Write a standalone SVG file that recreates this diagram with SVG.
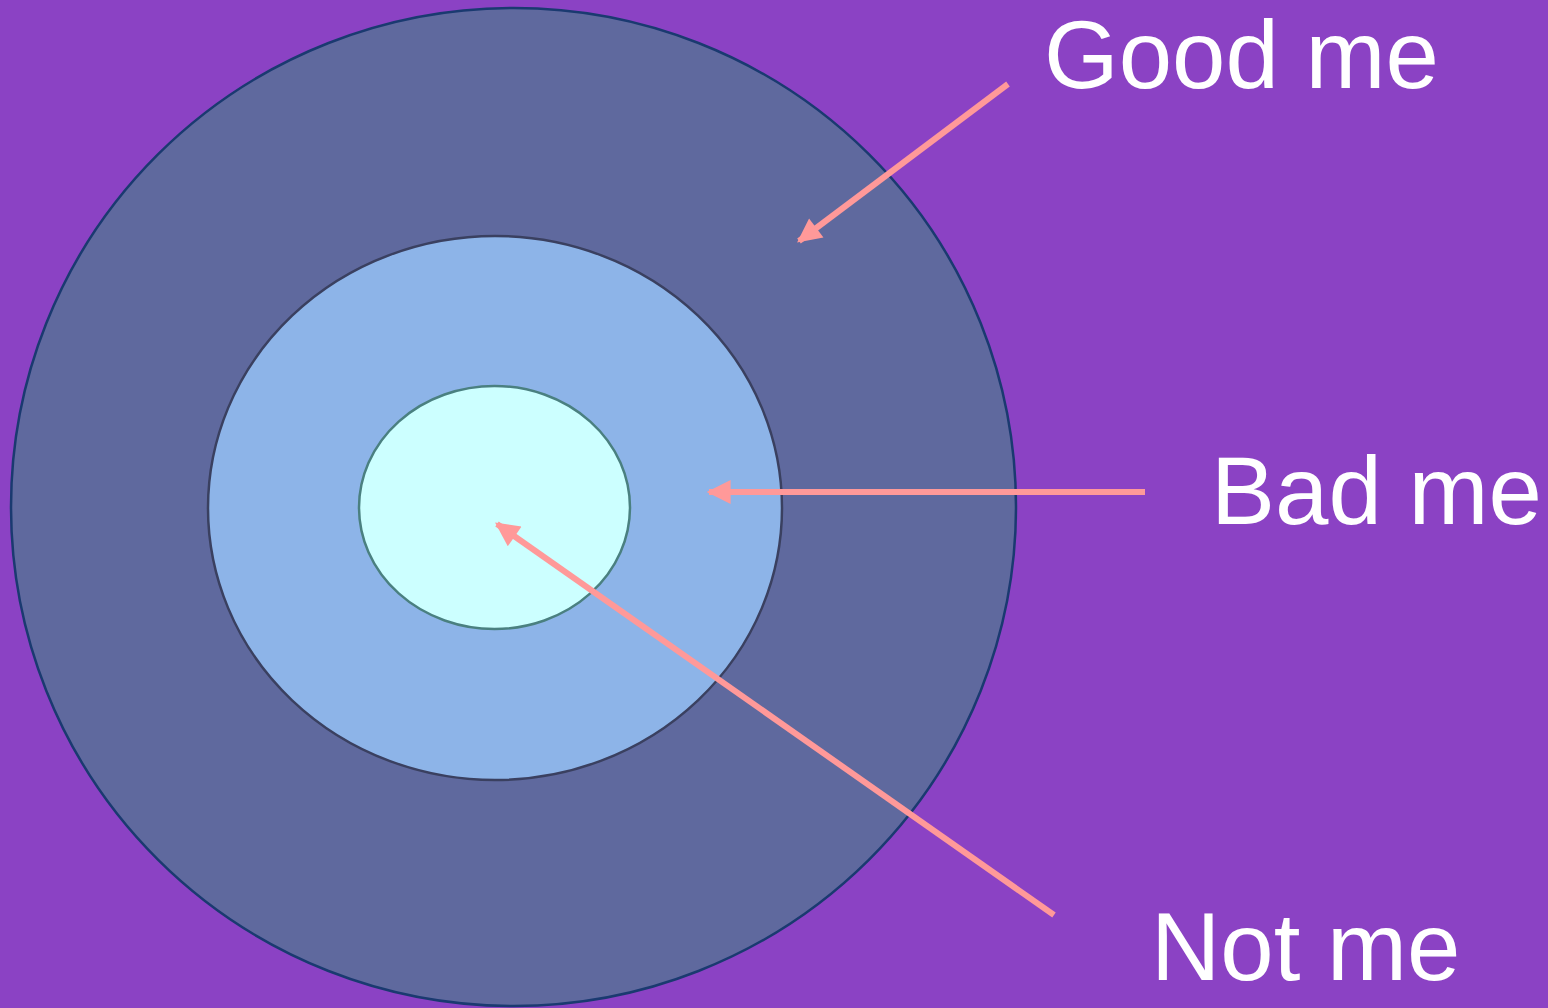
<svg xmlns="http://www.w3.org/2000/svg" width="1548" height="1008" viewBox="0 0 1548 1008">
<style>
.lbl{font-family:"Liberation Sans",Arial,sans-serif;font-size:96px;fill:#ffffff}
.arr{stroke:#FF9999;stroke-width:6;fill:none}
</style>
<defs>
<marker id="ah" viewBox="0 0 10 10" refX="9" refY="5" markerWidth="4.2" markerHeight="4" markerUnits="strokeWidth" orient="auto">
<path d="M0,0 L10,5 L0,10 Z" fill="#FF9999"/>
</marker>
</defs>
<rect width="1548" height="1008" fill="#8B42C4"/>
<g id="outer"><ellipse cx="513.5" cy="507" rx="502.5" ry="499" fill="#5F699E" stroke="#1A3A70" stroke-width="2.5"/></g>
<g id="middle"><ellipse cx="495" cy="508" rx="287" ry="272" fill="#8DB4E8" stroke="#3A4060" stroke-width="2.5"/></g>
<g id="inner"><ellipse cx="494.5" cy="507.5" rx="135.5" ry="121.5" fill="#CCFFFF" stroke="#4A8080" stroke-width="2.5"/></g>
<g id="connectors">
<line class="arr" x1="1008" y1="84" x2="799" y2="241" marker-end="url(#ah)"/>
<line class="arr" x1="1145" y1="492" x2="709" y2="492" marker-end="url(#ah)"/>
<line class="arr" x1="1054" y1="915" x2="497" y2="524" marker-end="url(#ah)"/>
</g>
<g id="good"><text class="lbl" x="1044" y="88">Good me</text></g>
<g id="bad"><text class="lbl" x="1211" y="524">Bad me</text></g>
<g id="not"><text class="lbl" x="1151" y="980">Not me</text></g>
</svg>
